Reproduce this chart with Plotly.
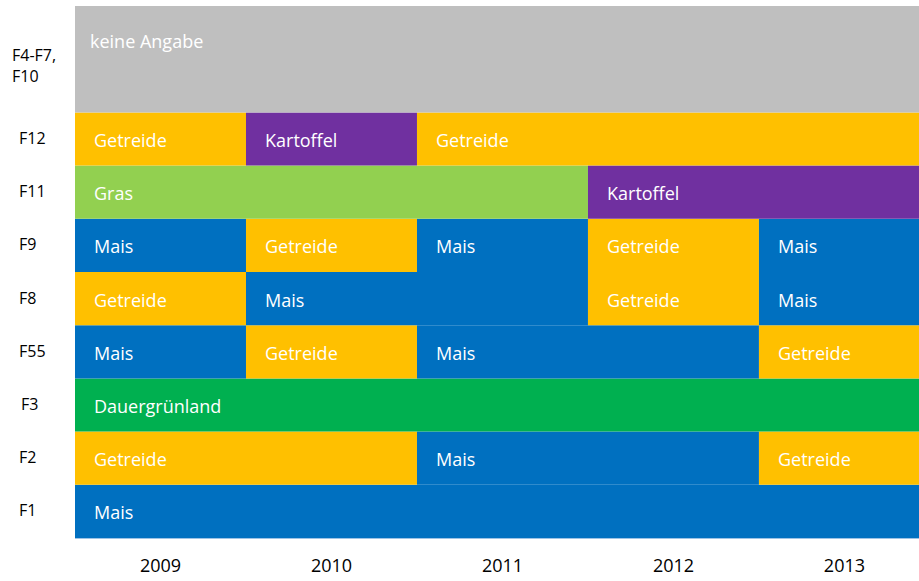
import plotly.graph_objects as go

# Rows (bottom to top) and their labels
row_labels = ["F1", "F2", "F3", "F55", "F8", "F9", "F11", "F12", "F4-F7,<br>F10"]
row_pos = [0, 1, 2, 3, 4, 5, 6, 7, 8.5]
row_height = [1, 1, 1, 1, 1, 1, 1, 1, 2]

years = [2009, 2010, 2011, 2012, 2013]

# Segments: row index, start year, end year, crop
seg_row = [0,
           1, 1, 1,
           2,
           3, 3, 3, 3,
           4, 4, 4, 4,
           5, 5, 5, 5, 5,
           6, 6,
           7, 7, 7,
           8]
seg_start = [2009,
             2009, 2011, 2013,
             2009,
             2009, 2010, 2011, 2013,
             2009, 2010, 2012, 2013,
             2009, 2010, 2011, 2012, 2013,
             2009, 2012,
             2009, 2010, 2011,
             2009]
seg_end = [2013,
           2010, 2012, 2013,
           2013,
           2009, 2010, 2012, 2013,
           2009, 2011, 2012, 2013,
           2009, 2010, 2011, 2012, 2013,
           2011, 2013,
           2009, 2010, 2013,
           2013]
seg_crop = ["Mais",
            "Getreide", "Mais", "Getreide",
            "Dauergrünland",
            "Mais", "Getreide", "Mais", "Getreide",
            "Getreide", "Mais", "Getreide", "Mais",
            "Mais", "Getreide", "Mais", "Getreide", "Mais",
            "Gras", "Kartoffel",
            "Getreide", "Kartoffel", "Getreide",
            "keine Angabe"]

crop_colors = {
    "Mais": "#0070C0",
    "Getreide": "#FFC000",
    "Dauergrünland": "#00B050",
    "Gras": "#92D050",
    "Kartoffel": "#7030A0",
    "keine Angabe": "#BFBFBF",
}

FONT = "Open Sans"

ys = [row_pos[r] for r in seg_row]
ws = [row_height[r] for r in seg_row]
bases = [s - 0.5 for s in seg_start]
lens = [e - s + 1 for s, e in zip(seg_start, seg_end)]
cols = [crop_colors[c] for c in seg_crop]

fig = go.Figure()
fig.add_trace(go.Bar(
    orientation="h", y=ys, x=lens, base=bases, width=ws,
    marker=dict(color=cols, line=dict(width=0)),
    hovertext=seg_crop, hoverinfo="text", showlegend=False,
))

annotations = []
for y, w, b, c in zip(ys, ws, bases, seg_crop):
    if w > 1:
        annotations.append(dict(x=b, y=y + w / 2, xref="x", yref="y", text=c,
                                showarrow=False, xanchor="left", yanchor="top",
                                xshift=13, yshift=-21,
                                font=dict(family=FONT, size=18, color="white")))
    else:
        annotations.append(dict(x=b, y=y, xref="x", yref="y", text=c,
                                showarrow=False, xanchor="left", yanchor="middle",
                                xshift=17, yshift=-1,
                                font=dict(family=FONT, size=18, color="white")))

for lab, p in zip(row_labels, row_pos):
    xs = -58
    if "F4" in lab:
        xs = -65
    elif lab == "F3":
        xs = -56
    annotations.append(dict(x=0, y=p, xref="paper", yref="y", text=lab,
                            showarrow=False, xanchor="left", yanchor="middle",
                            align="left", xshift=xs, yshift=-6 if "F4" in lab else 1,
                            font=dict(family=FONT, size=16, color="black")))

fig.update_layout(
    annotations=annotations,
    barmode="overlay",
    width=919, height=581,
    margin=dict(l=75, r=0, t=6, b=43),
    plot_bgcolor="white", paper_bgcolor="white",
    xaxis=dict(range=[2008.5, 2013.436], tickvals=years, ticktext=[str(y) for y in years],
               showgrid=False, zeroline=False, showline=True, linecolor="#9DC3E6", linewidth=1,
               ticks="", ticklabelstandoff=11,
               tickfont=dict(family=FONT, size=18, color="black")),
    yaxis=dict(range=[-0.5, 9.5], showticklabels=False, showgrid=False, zeroline=False,
               ticks=""),
)

fig.write_html("out.html", config={"displayModeBar": False},
               post_script="document.body.style.margin='0';")
